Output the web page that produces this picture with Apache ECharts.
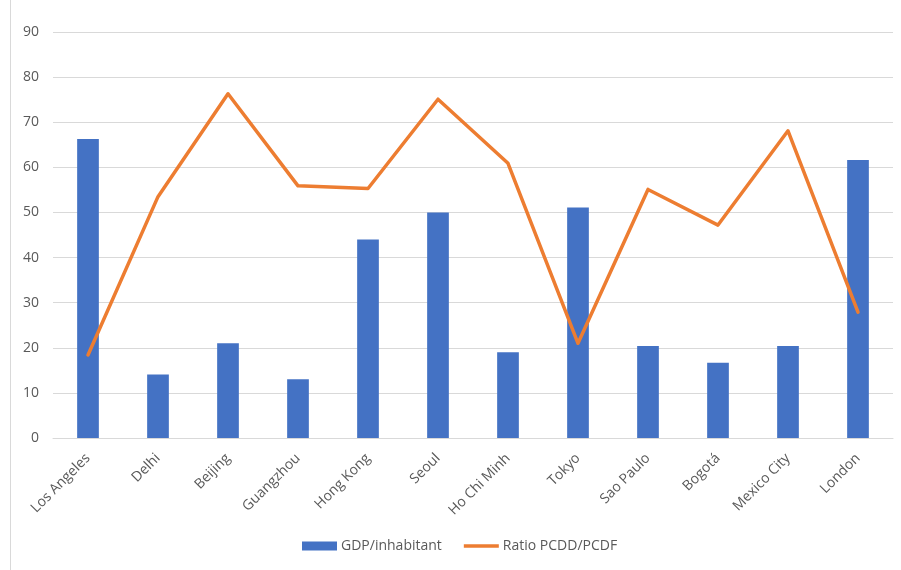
<!DOCTYPE html>
<html>
<head>
<meta charset="utf-8">
<script src="https://cdn.jsdelivr.net/npm/echarts@6/dist/echarts.min.js"></script>
<style>
  html, body { margin: 0; padding: 0; background: #ffffff; }
  #chart { width: 901px; height: 570px; }
</style>
</head>
<body>
<div id="chart"></div>
<script>
// Cities on the category axis
const cities = ['Los Angeles', 'Delhi', 'Beijing', 'Guangzhou', 'Hong Kong', 'Seoul',
  'Ho Chi Minh', 'Tokyo', 'Sao Paulo', 'Bogotá', 'Mexico City', 'London'];

// GDP per inhabitant (bars)
const gdpPerInhabitant = [66.3, 14.1, 21.0, 13.0, 44.0, 50.0, 19.0, 51.1, 20.4, 16.7, 20.4, 61.6];

// PCDD/PCDF ratio (line)
const ratioPcddPcdf = [18.4, 53.5, 76.3, 55.9, 55.3, 75.1, 60.9, 21.0, 55.1, 47.2, 68.1, 27.9];

// Value axis ticks
const yMin = 0, yMax = 90, yStep = 10;

const seriesNames = ['GDP/inhabitant', 'Ratio PCDD/PCDF'];

const font = 'Open Sans, Liberation Sans, sans-serif';
const chart = echarts.init(document.getElementById('chart'), null, { renderer: 'canvas' });

chart.setOption({
  backgroundColor: '#ffffff',
  animation: false,
  grid: { left: 53, right: 8, top: 32, bottom: 132, containLabel: false },
  graphic: [{
    type: 'line',
    shape: { x1: 10.5, y1: 0, x2: 10.5, y2: 570 },
    style: { stroke: '#d9d9d9', lineWidth: 1 }
  }],
  legend: {
    top: 539,
    left: 302,
    padding: 0,
    itemGap: 22,
    itemWidth: 35,
    itemHeight: 9,
    textStyle: { color: '#595959', fontSize: 14, fontFamily: font, padding: [0, 0, 0, -1] },
    data: [
      { name: seriesNames[0], icon: 'rect' },
      // plain stroke for the line series, no point marker
      { name: seriesNames[1], icon: 'path://M0,0 H36 V3.5 H0 Z', itemStyle: { color: '#ed7d31' } }
    ]
  },
  xAxis: {
    type: 'category',
    data: cities,
    axisLine: { show: true, lineStyle: { color: '#d9d9d9' } },
    axisTick: { show: false },
    axisLabel: {
      rotate: 45,
      interval: 0,
      margin: 18,
      color: '#595959',
      fontSize: 14,
      fontFamily: font
    }
  },
  yAxis: {
    type: 'value',
    min: yMin,
    max: yMax,
    interval: yStep,
    axisLine: { show: false },
    axisTick: { show: false },
    splitLine: { lineStyle: { color: '#d9d9d9', width: 1 } },
    axisLabel: { margin: 14, color: '#595959', fontSize: 14, fontFamily: font }
  },
  series: [
    {
      name: seriesNames[0],
      type: 'bar',
      data: gdpPerInhabitant,
      barWidth: '31%',
      itemStyle: { color: '#4472c4' }
    },
    {
      name: seriesNames[1],
      type: 'line',
      data: ratioPcddPcdf,
      symbol: 'none',
      lineStyle: { color: '#ed7d31', width: 3.5, join: 'round', cap: 'round' },
      itemStyle: { color: '#ed7d31' }
    }
  ]
});
</script>
</body>
</html>
